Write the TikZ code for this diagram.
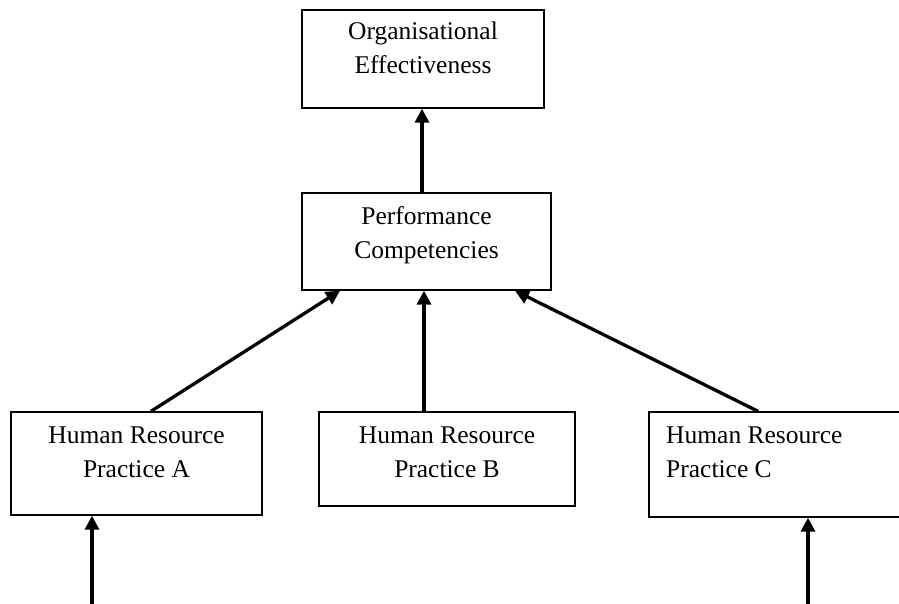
\documentclass[tikz,border=0pt]{standalone}
\usepackage{fontspec}
\setmainfont{Liberation Serif}
\usetikzlibrary{arrows.meta}
\newcommand\twolines[3]{\begin{tabular}[t]{@{}#1@{}}#2\\#3\end{tabular}}
\begin{document}
\begin{tikzpicture}[x=1pt,y=-1pt,
  box/.style={draw=black,line width=1.4pt,rectangle,inner sep=0pt},
  lbl/.style={inner sep=0pt,font=\fontsize{25.5}{34}\selectfont},
  conn/.style={line width=3.3pt,-{Triangle[width=14pt,length=14pt]}}]
\useasboundingbox (0,0) rectangle (899,604);
\clip (0,0) rectangle (899,604);
% boxes
\node[box,minimum width=242pt,minimum height=98pt] (oe) at (423,59) {};
\node[box,minimum width=249pt,minimum height=97pt] (perf) at (426.5,241.5) {};
\node[box,minimum width=251pt,minimum height=103pt] (hra) at (136.5,463.5) {};
\node[box,minimum width=256pt,minimum height=94pt] (hrb) at (447,459) {};
\node[box,minimum width=261pt,minimum height=105pt] (hrc) at (779.5,464.5) {};
% labels
\node[lbl,anchor=base] (toe) at (423,40) {\twolines{c}{Organisational}{Effectiveness}};
\node[lbl,anchor=base] (tperf) at (426.5,224) {\twolines{c}{Performance}{Competencies}};
\node[lbl,anchor=base] (thra) at (136.5,443) {\twolines{c}{Human Resource}{Practice A}};
\node[lbl,anchor=base] (thrb) at (447,443) {\twolines{c}{Human Resource}{Practice B}};
\node[lbl,anchor=base west] (thrc) at (666,443) {\twolines{l}{Human Resource}{Practice C}};
% free ends
\coordinate (ina) at (92,604);
\coordinate (inc) at (808,604);
% connectors
\draw[conn] ([xshift=-4.5pt]perf.north) -- ([xshift=-1pt]oe.south);
\draw[conn] ([xshift=-23pt]hrb.north) -- ([xshift=-2.5pt]perf.south);
\draw[conn] ([xshift=14.5pt]hra.north) -- ([xshift=-86.5pt]perf.south);
\draw[conn] ([xshift=-21.5pt]hrc.north) -- ([xshift=88.5pt]perf.south);
\draw[conn] (ina) -- (ina |- hra.south);
\draw[conn] (inc) -- (inc |- hrc.south);
\end{tikzpicture}
\end{document}
